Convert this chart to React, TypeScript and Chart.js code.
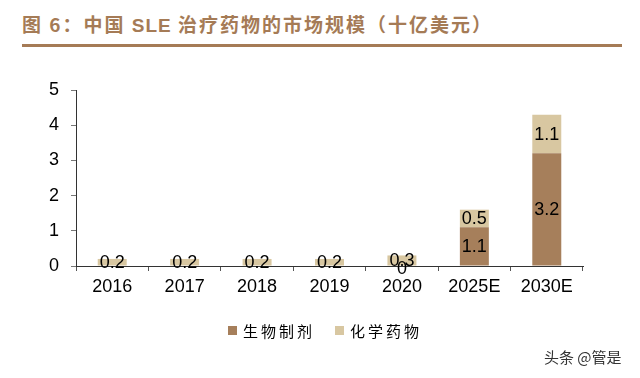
import React, { useEffect, useRef } from "react";
import { Chart, registerables } from "chart.js";

Chart.register(...registerables);

const categories = ["2016", "2017", "2018", "2019", "2020", "2025E", "2030E"];
const bioValues = [0, 0, 0, 0, 0, 1.1, 3.2];
const chemValues = [0.2, 0.2, 0.2, 0.2, 0.3, 0.5, 1.1];
const bioLabels = [null, null, null, null, "0", "1.1", "3.2"];
const chemLabels = ["0.2", "0.2", "0.2", "0.2", "0.3", "0.5", "1.1"];
const yTicks = [0, 1, 2, 3, 4, 5];
const seriesNames = ["生物制剂", "化学药物"];

const BIO = "#A67F5B";
const CHEM = "#D8C7A1";
const TITLE = "#A57B56";
const FONT = "'Liberation Sans', Arial, sans-serif";

const labelPlugin = {
  id: "barLabels",
  afterDatasetsDraw(chart: any) {
    const ctx = chart.ctx;
    const sets = [bioLabels, chemLabels];
    ctx.save();
    ctx.font = "18px " + FONT;
    ctx.fillStyle = "#000";
    ctx.textAlign = "center";
    ctx.textBaseline = "middle";
    sets.forEach((labels, di) => {
      const meta = chart.getDatasetMeta(di);
      meta.data.forEach((bar: any, i: number) => {
        const t = labels[i];
        if (t == null) return;
        const cy = (bar.y + bar.base) / 2;
        ctx.fillText(t, bar.x, cy + (di === 0 && bioValues[i] === 0 ? 3 : 1));
      });
    });
    ctx.restore();
  },
};

function BarChart() {
  const ref = useRef<HTMLCanvasElement>(null);
  useEffect(() => {
    const chart = new Chart(ref.current!, {
      type: "bar",
      data: {
        labels: categories,
        datasets: [
          { label: seriesNames[0], data: bioValues, backgroundColor: BIO, barPercentage: 0.4, categoryPercentage: 1 },
          { label: seriesNames[1], data: chemValues, backgroundColor: CHEM, barPercentage: 0.4, categoryPercentage: 1 },
        ],
      },
      options: {
        animation: false,
        responsive: false,
        maintainAspectRatio: false,
        layout: { padding: { left: 0, right: 57, top: 90, bottom: 0 } },
        plugins: { legend: { display: false }, tooltip: { enabled: false } },
        scales: {
          x: {
            stacked: true,
            afterFit: (s: any) => { s.height = 112; },
            grid: { drawOnChartArea: false, offset: true, tickLength: 5, color: "#555", tickColor: "#555" },
            border: { color: "#333", width: 1 },
            ticks: { color: "#000", padding: 5, font: { size: 18, family: FONT } },
          },
          y: {
            stacked: true,
            min: 0,
            max: 5,
            afterFit: (s: any) => { s.width = 76; },
            afterBuildTicks: (s: any) => { s.ticks = yTicks.map((v) => ({ value: v })); },
            grid: { drawOnChartArea: false, tickLength: 5, color: "#555", tickColor: "#777" },
            border: { color: "#333", width: 1 },
            ticks: { color: "#000", padding: 12, font: { size: 18, family: FONT } },
          },
        },
      },
      plugins: [labelPlugin],
    });
    return () => chart.destroy();
  }, []);
  return <canvas ref={ref} width={640} height={378} style={{ position: "absolute", left: 0, top: 0 }} />;
}

export default function App() {
  const legendText: React.CSSProperties = {
    position: "absolute",
    top: 322,
    fontFamily: "'Noto Sans CJK SC', sans-serif",
    fontSize: 15,
    letterSpacing: 3,
    color: "#000",
    lineHeight: "18px",
  };
  return (
    <div style={{ position: "fixed", left: 0, top: 0, width: 640, height: 378, background: "#fff", overflow: "hidden" }}>
      <div
        style={{
          position: "absolute",
          left: 22,
          top: 11,
          fontFamily: "'Noto Sans CJK SC', sans-serif",
          fontWeight: 700,
          fontSize: 19,
          letterSpacing: 2,
          color: TITLE,
          lineHeight: "26px",
          whiteSpace: "nowrap",
        }}
      >
        图 6：中国 <span style={{ fontFamily: FONT, letterSpacing: 1 }}>SLE</span> 治疗药物的市场规模（十亿美元）
      </div>
      <div style={{ position: "absolute", left: 22, top: 44, width: 600, height: 3, background: TITLE }} />
      <BarChart />
      <div style={{ position: "absolute", left: 228, top: 326, width: 9, height: 9, background: BIO }} />
      <div style={{ ...legendText, left: 243 }}>{seriesNames[0]}</div>
      <div style={{ position: "absolute", left: 335, top: 326, width: 9, height: 9, background: CHEM }} />
      <div style={{ ...legendText, left: 350 }}>{seriesNames[1]}</div>
      <div
        style={{
          position: "absolute",
          left: 544,
          top: 348,
          fontFamily: "'Noto Sans CJK SC', sans-serif",
          fontSize: 15,
          color: "#333",
          lineHeight: "18px",
          whiteSpace: "nowrap",
        }}
      >
        头条 @管是
      </div>
    </div>
  );
}
